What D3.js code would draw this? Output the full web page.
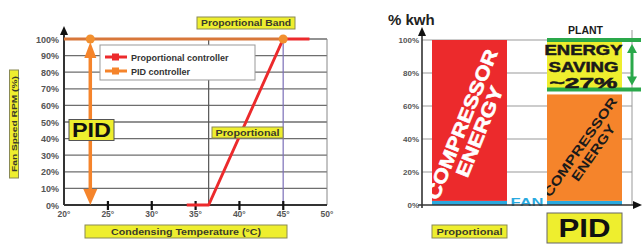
<!DOCTYPE html>
<html><head><meta charset="utf-8">
<script src="https://cdn.jsdelivr.net/npm/d3@7"></script>
<style>
html,body{margin:0;padding:0;background:#fff;}
svg{display:block;font-family:"Liberation Sans",Arial,sans-serif;}
</style></head>
<body>
<svg id="c" width="642" height="247"></svg>
<script>
// ---------- data ----------
const speedTicks = [0,10,20,30,40,50,60,70,80,90,100];
const tempTicks = [20,25,30,35,40,45,50];
const propTemps = [34, 36.5, 45, 48];
const propSpeed = [0, 0, 100, 100];
const pidTemps = [20, 23, 45];
const pidSpeed = [100, 100, 100];
const pidMarkerTemps = [23, 45];
const pidArrowTemp = 23;
const bandStart = 36.5, bandEnd = 45;

const barCategories = ["Proportional", "PID"];
const fanEnergy = [2.5, 2.5];
const compressorEnergy = [97.5, 64.5];
const savingRange = [70, 100];
const kwhTicks = [0,20,40,60,80,100];

const RED = "#ec2a2c", ORANGE = "#f5842b", YELLOW = "#eeee2e", BLUE = "#2aa9df", GREEN = "#2aa84a";

const svg = d3.select("#c");
const defs = svg.append("defs");

// ---------- left chart ----------
const x = d3.scaleLinear().domain([20,50]).range([64,327]);
const y = d3.scaleLinear().domain([0,100]).range([205,39]);

svg.append("g").selectAll("line").data(speedTicks.filter(d=>d>0)).join("line")
  .attr("x1", x(20)).attr("x2", x(50)).attr("y1", d=>y(d)).attr("y2", d=>y(d))
  .attr("stroke", "#6e6e6e").attr("stroke-width", 1.3);
svg.append("line").attr("x1", x(bandStart)).attr("x2", x(bandStart)).attr("y1", y(100)).attr("y2", y(0))
  .attr("stroke", "#555").attr("stroke-width", 1.2);
svg.append("line").attr("x1", x(bandEnd)).attr("x2", x(bandEnd)).attr("y1", y(100)).attr("y2", y(0))
  .attr("stroke", "#7b6fb8").attr("stroke-width", 1.2);
svg.append("line").attr("x1", x(50)).attr("x2", x(50)).attr("y1", y(100)).attr("y2", y(0))
  .attr("stroke", "#888").attr("stroke-width", 1);

svg.append("g").selectAll("text").data(speedTicks).join("text")
  .attr("x", x(20)-5).attr("y", d=>y(d)+3.5).attr("text-anchor","end")
  .attr("font-size", 9).attr("font-weight","bold").attr("fill","#555")
  .text(d=>d+"%");

svg.append("line").attr("x1", x(20)).attr("x2", x(20)).attr("y1", y(0)).attr("y2", 33)
  .attr("stroke","#333").attr("stroke-width",2);
svg.append("path").attr("d", `M${x(20)-4},35 L${x(20)},26 L${x(20)+4},35 Z`).attr("fill","#111");
svg.append("line").attr("x1", x(20)).attr("x2", x(50)).attr("y1", y(0)).attr("y2", y(0))
  .attr("stroke","#333").attr("stroke-width",2);
svg.append("g").selectAll("rect").data(tempTicks.filter(d=>d>20 && d<50)).join("rect")
  .attr("x", d=>x(d)-1).attr("y", y(0)-4).attr("width", 2.2).attr("height", 9).attr("fill","#111");
svg.append("g").selectAll("text").data(tempTicks).join("text")
  .attr("x", d=>x(d)).attr("y", 217).attr("text-anchor","middle")
  .attr("font-size", 8.5).attr("font-weight","bold").attr("fill","#555")
  .text(d=>d+"°");

const line = d3.line().x(d=>x(d[0])).y(d=>y(d[1]));
svg.append("path").attr("d", line(pidTemps.map((t,i)=>[t,pidSpeed[i]])))
  .attr("fill","none").attr("stroke","#d8773a").attr("stroke-width",3);

const ax = x(pidArrowTemp);
svg.append("line").attr("x1", ax).attr("x2", ax).attr("y1", y(100)+12).attr("y2", y(0)-14)
  .attr("stroke", ORANGE).attr("stroke-width", 3.5);
svg.append("path").attr("d", `M${ax-6},${y(100)+19} L${ax},${y(100)+3} L${ax+6},${y(100)+19} Z`).attr("fill", ORANGE);
svg.append("path").attr("d", `M${ax-7},${y(0)-16} L${ax},${y(0)} L${ax+7},${y(0)-16} Z`).attr("fill", ORANGE);

svg.append("path").attr("d", line(propTemps.map((t,i)=>[t,propSpeed[i]])))
  .attr("fill","none").attr("stroke", RED).attr("stroke-width",3).attr("stroke-linejoin","round");

svg.append("g").selectAll("circle").data(pidMarkerTemps).join("circle")
  .attr("cx", d=>x(d)).attr("cy", y(100)).attr("r", 4.5).attr("fill", "#f2902f");

const lg = svg.append("g");
lg.append("rect").attr("x",100).attr("y",45).attr("width",155).attr("height",35)
  .attr("fill","#fff").attr("stroke","#999").attr("stroke-width",1);
const legendItems = [{name:"Proportional controller", c:RED},{name:"PID controller", c:ORANGE}];
legendItems.forEach((it,i)=>{
  const ly = 57 + i*14;
  lg.append("line").attr("x1",105).attr("x2",127).attr("y1",ly).attr("y2",ly).attr("stroke",it.c).attr("stroke-width",3);
  lg.append("rect").attr("x",112).attr("y",ly-3.5).attr("width",7).attr("height",7).attr("fill",it.c);
  lg.append("text").attr("x",131).attr("y",ly+3.5).attr("font-size",9).attr("font-weight","bold")
    .attr("fill","#333").text(it.name);
});

function label(cx, cy, w, h, txt, fs, opts={}) {
  const g = svg.append("g");
  g.append("rect").attr("x", cx-w/2).attr("y", cy-h/2).attr("width", w).attr("height", h)
    .attr("fill", YELLOW).attr("stroke", opts.stroke || "#8a8a55").attr("stroke-width", opts.sw || 1);
  const t = g.append("text").attr("x", cx).attr("y", cy + fs*0.36).attr("text-anchor","middle")
    .attr("font-size", fs).attr("font-weight","bold").attr("fill", opts.fill || "#3a3a2a")
    .text(txt);
  if (opts.tl) t.attr("textLength", opts.tl).attr("lengthAdjust","spacingAndGlyphs");
  return g;
}

label(246, 23, 98, 12, "Proportional Band", 8.5, {tl: 90});
label(91.5, 130, 45, 21, "PID", 20, {fill:"#111", stroke:"#555", tl: 39});
label(247.5, 132.5, 71, 11, "Proportional", 8.5, {tl: 64});
label(186, 231.5, 202, 13, "Condensing Temperature (°C)", 9, {tl: 150});
const yl = svg.append("g").attr("transform","translate(14,124) rotate(-90)");
yl.append("rect").attr("x",-54).attr("y",-4.5).attr("width",108).attr("height",9)
  .attr("fill",YELLOW).attr("stroke","#8a8a55");
yl.append("text").attr("x",0).attr("y",2.7).attr("text-anchor","middle").attr("font-size",7)
  .attr("font-weight","bold").attr("fill","#3a3a2a").attr("textLength",96).attr("lengthAdjust","spacingAndGlyphs")
  .text("Fan Speed RPM (%)");

// ---------- right chart ----------
const xb = d3.scaleBand().domain(barCategories).range([422,632]).paddingInner(0.348).paddingOuter(0.087);
const yr = d3.scaleLinear().domain([0,100]).range([205,40]);

svg.append("text").attr("x",388).attr("y",25).attr("font-size",15).attr("font-weight","bold")
  .attr("fill","#222").text("% kwh");

svg.append("g").selectAll("line").data(kwhTicks.filter(d=>d>0)).join("line")
  .attr("x1", 422).attr("x2", 632).attr("y1", d=>yr(d)).attr("y2", d=>yr(d))
  .attr("stroke","#9a9a9a").attr("stroke-width",1.2);
svg.append("line").attr("x1",632).attr("x2",632).attr("y1",30).attr("y2",yr(0))
  .attr("stroke","#999").attr("stroke-width",1);
svg.append("g").selectAll("text").data(kwhTicks).join("text")
  .attr("x", 419).attr("y", d=>yr(d)+3).attr("text-anchor","end")
  .attr("font-size",8).attr("fill","#555").attr("font-weight","bold")
  .text(d=>d+"%");

const colors = [RED, ORANGE];
barCategories.forEach((c,i)=>{
  const bx = xb(c), bw = xb.bandwidth();
  svg.append("rect").attr("x",bx).attr("width",bw).attr("y",yr(fanEnergy[i])).attr("height",yr(0)-yr(fanEnergy[i]))
    .attr("fill",BLUE);
  svg.append("rect").attr("x",bx).attr("width",bw)
    .attr("y",yr(fanEnergy[i]+compressorEnergy[i])).attr("height",yr(fanEnergy[i])-yr(fanEnergy[i]+compressorEnergy[i]))
    .attr("fill",colors[i]);
  defs.append("clipPath").attr("id","clip"+i).append("rect")
    .attr("x",bx).attr("width",bw).attr("y",yr(fanEnergy[i]+compressorEnergy[i]))
    .attr("height",yr(0)-yr(fanEnergy[i]+compressorEnergy[i]));
});

{
  const b0 = xb(barCategories[0]);
  const g = svg.append("g").attr("clip-path","url(#clip0)")
    .append("g").attr("transform",`translate(${b0+6},201) rotate(-68)`);
  g.append("text").attr("x",0).attr("y",0).attr("font-size",19).attr("font-weight","bold").attr("fill","#fff")
    .attr("stroke","#fff").attr("stroke-width",0.6)
    .attr("textLength",160).attr("lengthAdjust","spacingAndGlyphs").text("COMPRESSOR");
  g.append("text").attr("x",80).attr("y",19).attr("text-anchor","middle").attr("font-size",19).attr("font-weight","bold").attr("fill","#fff")
    .attr("stroke","#fff").attr("stroke-width",0.6)
    .attr("textLength",96).attr("lengthAdjust","spacingAndGlyphs").text("ENERGY");
}
{
  const b1 = xb(barCategories[1]);
  const g = svg.append("g").attr("clip-path","url(#clip1)")
    .append("g").attr("transform",`translate(${b1+3},198) rotate(-55)`);
  g.append("text").attr("x",0).attr("y",0).attr("font-size",13).attr("font-weight","bold").attr("fill","#1a1a1a")
    .attr("textLength",118).attr("lengthAdjust","spacingAndGlyphs").text("COMPRESSOR");
  g.append("text").attr("x",62).attr("y",14).attr("text-anchor","middle").attr("font-size",13).attr("font-weight","bold").attr("fill","#1a1a1a")
    .attr("textLength",66).attr("lengthAdjust","spacingAndGlyphs").text("ENERGY");
}

svg.append("text").attr("x", (xb(barCategories[0])+xb.bandwidth()+xb(barCategories[1]))/2).attr("y",206)
  .attr("text-anchor","middle").attr("font-size",11).attr("font-weight","bold").attr("fill",BLUE)
  .attr("textLength",33).attr("lengthAdjust","spacingAndGlyphs").text("FAN");

svg.append("line").attr("x1",422).attr("x2",422).attr("y1",yr(0)+3).attr("y2",34).attr("stroke","#333").attr("stroke-width",1.6);
svg.append("path").attr("d",`M418,36 L422,27 L426,36 Z`).attr("fill","#111");
svg.append("line").attr("x1",418).attr("x2",634).attr("y1",yr(0)).attr("y2",yr(0)).attr("stroke","#333").attr("stroke-width",1.6);
svg.append("path").attr("d",`M633,${yr(0)-4} L642,${yr(0)} L633,${yr(0)+4} Z`).attr("fill","#111");

{
  const bx = xb(barCategories[1]), bw = xb.bandwidth();
  svg.append("rect").attr("x",bx).attr("width",bw).attr("y",yr(savingRange[1])).attr("height",yr(savingRange[0])-yr(savingRange[1]))
    .attr("fill",YELLOW);
  savingRange.forEach(v=>{
    svg.append("line").attr("x1",bx).attr("x2",641).attr("y1",yr(v)).attr("y2",yr(v))
      .attr("stroke",GREEN).attr("stroke-width",4);
  });
  const gx = 632;
  svg.append("line").attr("x1",gx).attr("x2",gx).attr("y1",yr(savingRange[1])+8).attr("y2",yr(savingRange[0])-8)
    .attr("stroke",GREEN).attr("stroke-width",3);
  svg.append("path").attr("d",`M${gx-5},${yr(savingRange[1])+13} L${gx},${yr(savingRange[1])+4} L${gx+5},${yr(savingRange[1])+13} Z`).attr("fill",GREEN);
  svg.append("path").attr("d",`M${gx-5},${yr(savingRange[0])-13} L${gx},${yr(savingRange[0])-4} L${gx+5},${yr(savingRange[0])-13} Z`).attr("fill",GREEN);
  const cx = bx + bw/2 - 1;
  svg.append("text").attr("x",cx+2).attr("y",34).attr("text-anchor","middle").attr("font-size",10.5).attr("font-weight","bold")
    .attr("fill","#1a1a1a").text("PLANT");
  [["ENERGY",55,78],["SAVING",71.5,70],["~27%",88,68]].forEach(([t,yy,tl])=>{
    svg.append("text").attr("x",cx).attr("y",yy).attr("text-anchor","middle").attr("font-size",14).attr("font-weight","bold")
      .attr("fill","#1a1a1a").attr("stroke","#1a1a1a").attr("stroke-width",0.5)
      .attr("textLength",tl).attr("lengthAdjust","spacingAndGlyphs").text(t);
  });
}

label(xb(barCategories[0])+xb.bandwidth()/2, 231.5, 75, 13, "Proportional", 9, {tl: 66});
label(xb(barCategories[1])+xb.bandwidth()/2, 228, 75, 30, "PID", 26, {fill:"#111", stroke:"#666", tl: 52});
</script>
</body></html>
